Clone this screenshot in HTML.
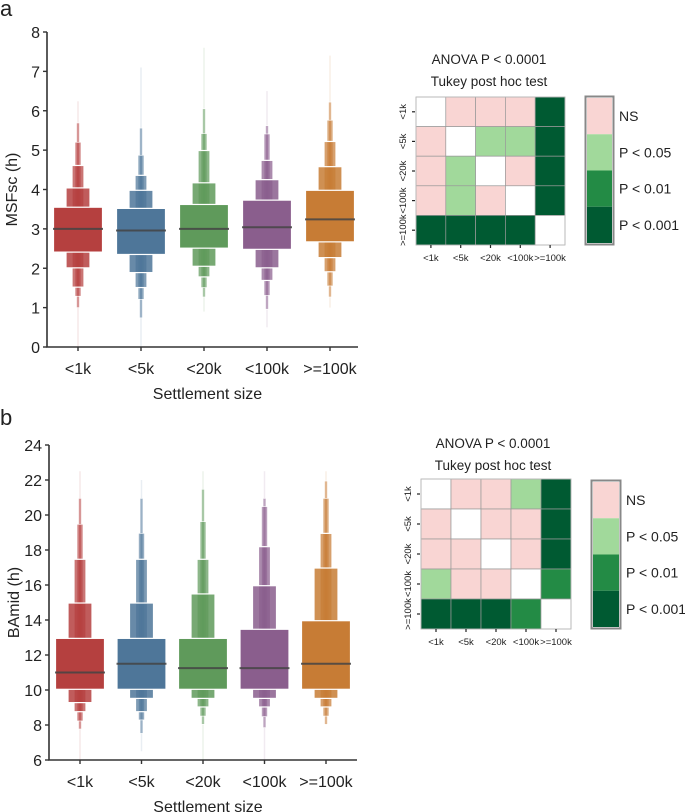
<!DOCTYPE html>
<html><head><meta charset="utf-8"><style>
body{margin:0;background:#fff}
svg{display:block;font-family:"Liberation Sans",Arial,sans-serif}
</style></head><body>
<svg id="fig" width="685" height="812" viewBox="0 0 685 812" xmlns="http://www.w3.org/2000/svg">
<text x="0" y="16" font-size="22" fill="#222">a</text>
<text x="0" y="425" font-size="22" fill="#222">b</text>
<g id="chartA"></g>
<g id="chartB"></g>
<g id="heatA"></g>
<g id="heatB"></g>
</svg>
<script>
const categories = ["<1k","<5k","<20k","<100k",">=100k"];
const colors = ["#b5403f","#4e7699","#5f9a5b","#8a5e8d","#c77c35"];
// MSFsc letter-value levels [lo,hi] from innermost outward
const msfMedians = [3.0, 2.96, 3.0, 3.04, 3.24];
const msfLevels = [
 [[2.41,3.55],[2.01,4.04],[1.52,4.61],[1.29,5.2],[1.0,5.69],[0.0,6.24]],
 [[2.35,3.52],[1.89,3.98],[1.51,4.36],[1.21,4.87],[0.74,5.56],[0.0,7.1]],
 [[2.51,3.62],[2.05,4.17],[1.78,4.99],[1.51,5.42],[1.27,6.05],[0.9,7.6]],
 [[2.48,3.73],[2.01,4.25],[1.69,4.74],[1.31,5.41],[0.96,5.62],[0.5,6.5]],
 [[2.67,3.98],[2.27,4.58],[1.91,5.22],[1.55,5.76],[1.27,6.22],[1.0,7.4]]
];
const msfTicks = [0,1,2,3,4,5,6,7,8];
const baMedians = [11.0, 11.5, 11.25, 11.25, 11.5];
const baLevels = [
 [[10.04,12.95],[9.28,14.97],[8.76,17.47],[8.23,19.47],[7.77,20.95],[6.0,22.5]],
 [[10.04,12.95],[9.52,14.97],[8.76,17.47],[8.29,18.95],[7.52,20.95],[6.5,22.0]],
 [[10.04,12.95],[9.52,15.49],[9.03,17.47],[8.51,19.62],[8.04,21.47],[6.0,22.5]],
 [[10.04,13.47],[9.52,15.96],[9.03,18.19],[8.48,20.48],[7.85,20.95],[6.0,22.5]],
 [[10.04,13.96],[9.52,16.97],[9.03,18.95],[8.51,20.95],[8.04,21.94],[8.0,22.5]]
];
const baTicks = [6,8,10,12,14,16,18,20,22,24];
// Tukey matrices: 0=diag,1=NS,2=P<0.05,3=P<0.01,4=P<0.001
const tukeyA = [[0,1,1,1,4],[1,0,2,2,4],[1,2,0,1,4],[1,2,1,0,4],[4,4,4,4,0]];
const tukeyB = [[0,1,1,2,4],[1,0,1,1,4],[1,1,0,1,4],[2,1,1,0,3],[4,4,4,3,0]];
const legendLabels = ["NS","P < 0.05","P < 0.01","P < 0.001"];
const heatColors = ["#ffffff","#f9d5d3","#a1d99b","#238b45","#005a32"];

const NS="http://www.w3.org/2000/svg";
function mk(parent,tag,attrs,text){const e=document.createElementNS(NS,tag);for(const k in attrs)e.setAttribute(k,attrs[k]);if(text!==undefined)e.textContent=text;parent.appendChild(e);return e;}

function boxen(gid,cfg,levels,medians,ticks,ytitle){
 const g=document.getElementById(gid);
 const y=v=>cfg.y0-(v-cfg.vmin)/(cfg.vmax-cfg.vmin)*(cfg.y0-cfg.y1);
 const x=i=>cfg.xs+i*cfg.step;
 const widths=[49,24,12,6,3,1.5];
 const ops=[1,0.85,0.72,0.6,0.5,0.12];
 levels.forEach((lv,i)=>{
  for(let k=lv.length-1;k>=0;k--){
   const [lo,hi]=lv[k];const w=widths[k];
   const r=mk(g,'rect',{x:x(i)-w/2,y:y(hi),width:w,height:y(lo)-y(hi),fill:colors[i],'fill-opacity':ops[k],stroke:k<5?'#fff':'none','stroke-width':k<3?1.2:0.6});
   
   
  }
  const m=mk(g,'line',{x1:x(i)-25,x2:x(i)+25,y1:y(medians[i]),y2:y(medians[i]),stroke:'#444','stroke-width':2,'stroke-opacity':0.85});
  
  
 });
 const ax=mk(g,'path',{d:`M${cfg.ax},${cfg.y1} V${cfg.y0} H${cfg.axEnd}`,stroke:'#333','stroke-width':1.6,fill:'none'});
 
 
 ticks.forEach(t=>{
  mk(g,'line',{x1:cfg.ax-4,x2:cfg.ax,y1:y(t),y2:y(t),stroke:'#333','stroke-width':1.4});
  const tl=mk(g,'text',{x:cfg.ax-7,y:y(t)+6,'font-size':16,'text-anchor':'end',fill:'#222'},t);
  
  
 });
 categories.forEach((c,i)=>{
  mk(g,'line',{x1:x(i),x2:x(i),y1:cfg.y0,y2:cfg.y0+4,stroke:'#333','stroke-width':1.4});
  const tl=mk(g,'text',{x:x(i),y:cfg.y0+27,'font-size':16,'text-anchor':'middle',fill:'#222'},c);
  
  
 });
 const xt=mk(g,'text',{x:(cfg.ax+cfg.axEnd)/2+5,y:cfg.y0+52,'font-size':16,'text-anchor':'middle',fill:'#222'},'Settlement size');
 
 
 const yt=mk(g,'text',{x:0,y:0,'font-size':16,'text-anchor':'middle',fill:'#222',transform:`translate(${cfg.ax-30},${(cfg.y0+cfg.y1)/2}) rotate(-90)`},ytitle);
 
 
}
boxen('chartA',{y0:347,y1:32,vmin:0,vmax:8,xs:78,step:63,ax:47,axEnd:358},msfLevels,msfMedians,msfTicks,'MSFsc (h)');
boxen('chartB',{y0:760,y1:445,vmin:6,vmax:24,xs:80,step:61.5,ax:49,axEnd:357},baLevels,baMedians,baTicks,'BAmid (h)');

function heat(gid,m,c){
 const g=document.getElementById(gid);
 const cw=(c.x1-c.x0)/5,ch=(c.y1-c.y0)/5;
 const t1=mk(g,'text',{x:c.tx,y:c.ty,'font-size':13.5,'text-anchor':'middle',fill:'#222'},'ANOVA P < 0.0001');
 
 
 const t2=mk(g,'text',{x:c.tx,y:c.ty+22,'font-size':13.5,'text-anchor':'middle',fill:'#222'},'Tukey post hoc test');
 
 
 m.forEach((row,r)=>row.forEach((v,k)=>{
  const cell=mk(g,'rect',{x:c.x0+k*cw,y:c.y0+r*ch,width:cw,height:ch,fill:heatColors[v],stroke:'#999','stroke-width':0.7});
  
  
 }));
 mk(g,'rect',{x:c.x0,y:c.y0,width:c.x1-c.x0,height:c.y1-c.y0,fill:'none',stroke:'#bbb','stroke-width':0.8});
 categories.forEach((lab,i)=>{
  const cx=c.x0+(i+0.5)*cw, cy=c.y0+(i+0.5)*ch;
  mk(g,'line',{x1:cx,x2:cx,y1:c.y1,y2:c.y1+3,stroke:'#222','stroke-width':1.2});
  mk(g,'line',{x1:c.x0-4,x2:c.x0-1,y1:cy,y2:cy,stroke:'#222','stroke-width':1.2});
  const xl=mk(g,'text',{x:cx,y:c.y1+16,'font-size':9.5,'text-anchor':'middle',fill:'#222'},lab);
  
  
  const yl=mk(g,'text',{x:0,y:0,'font-size':9.5,'text-anchor':'middle',fill:'#222',transform:`translate(${c.x0-10},${cy}) rotate(-90)`},lab);
  
  
 });
 const lh=(c.ly1-c.ly0)/4;
 mk(g,'rect',{x:c.lx-1.5,y:c.ly0-1.5,width:c.lw+3,height:c.ly1-c.ly0+3,fill:'none',stroke:'#888','stroke-width':2});
 legendLabels.forEach((lab,i)=>{
  const r=mk(g,'rect',{x:c.lx,y:c.ly0+i*lh,width:c.lw,height:lh,fill:heatColors[i+1]});
  
  
  const t=mk(g,'text',{x:c.lx+c.lw+7,y:c.ly0+(i+0.5)*lh+5,'font-size':14,fill:'#222'},lab);
  
  
 });
}
heat('heatA',tukeyA,{x0:416,x1:565,y0:97,y1:245,tx:489,ty:64,lx:587,lw:25,ly0:98,ly1:243});
heat('heatB',tukeyB,{x0:421,x1:571,y0:479,y1:629,tx:493,ty:448,lx:593,lw:26,ly0:482,ly1:627});
</script>
</body></html>
